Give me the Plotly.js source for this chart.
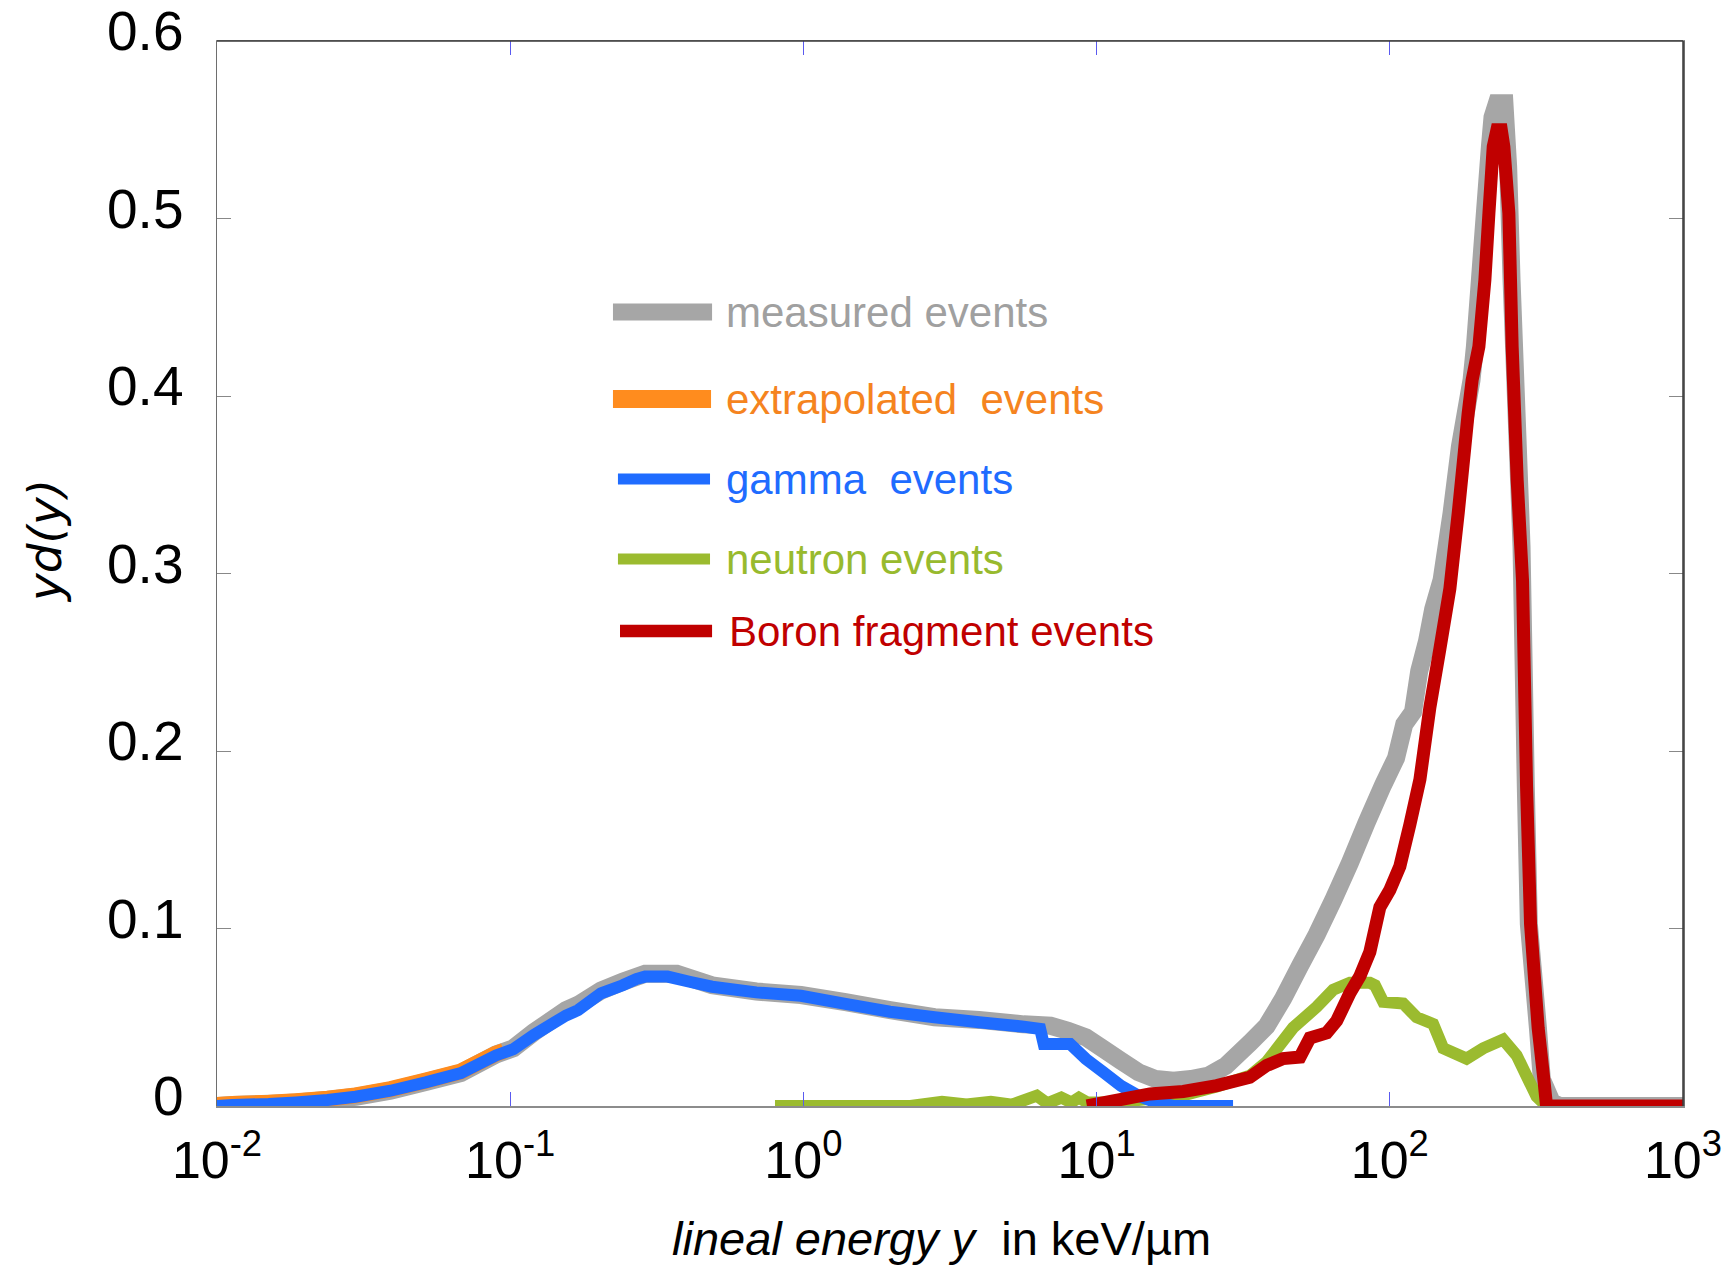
<!DOCTYPE html>
<html>
<head>
<meta charset="utf-8">
<script src="https://cdn.plot.ly/plotly-3.0.1.min.js"></script>
<style>
  html, body { margin: 0; padding: 0; background: #ffffff; }
  #chart { width: 1735px; height: 1268px; }
</style>
</head>
<body>
<div id="chart"></div>
<script>
// Microdosimetric spectra: lineal energy y (keV/µm) vs. yd(y)

// measured events (total)
const measuredY = [0.01, 0.0113, 0.015, 0.0186, 0.0238, 0.0297, 0.0391, 0.0515, 0.0679, 0.0894,
  0.1025, 0.1203, 0.155, 0.1705, 0.204, 0.242, 0.2885, 0.37, 0.488, 0.691, 0.981, 1.392, 1.975,
  2.80, 3.97, 5.64, 6.97, 7.99, 9.19, 10.55, 12.1, 13.9, 15.9, 18.3, 21.0, 24.1, 27.6, 30.8, 33.3,
  38.0, 43.3, 49.4, 56.3, 64.1, 73.1, 83.3, 94.95, 105, 112, 120, 126, 134, 140.6, 150.2, 162.4,
  173.4, 190, 195.1, 202.9, 211, 219.5, 224, 232, 246, 253.3, 260.2, 270.6, 281.4, 291, 298, 320,
  330, 357, 380, 1000];
const measuredYd = [0, 0.0006, 0.0012, 0.002, 0.0034, 0.0052, 0.0086, 0.0135, 0.0186, 0.029,
  0.0325, 0.0415, 0.054, 0.057, 0.065, 0.070, 0.0745, 0.0745, 0.068, 0.0645, 0.0625, 0.0585, 0.054,
  0.050, 0.0485, 0.046, 0.0452, 0.0424, 0.0387, 0.0321, 0.0255, 0.019, 0.0152, 0.0143, 0.0152, 0.0171, 0.0227, 0.0302, 0.0355,
  0.045, 0.0606, 0.079, 0.0965, 0.116, 0.137, 0.1596, 0.181, 0.196, 0.215, 0.222, 0.245, 0.262, 0.280, 0.2963, 0.3339,
  0.3714, 0.409, 0.4278, 0.4653, 0.503, 0.5405, 0.557, 0.565, 0.565, 0.529, 0.465, 0.39, 0.315, 0.18, 0.1025, 0.044,
  0.015, 0.002, 0, 0];

// extrapolated events (below detection threshold)
const extrapY = [0.01, 0.0113, 0.015, 0.0186, 0.0238, 0.0297, 0.0391, 0.0515, 0.0679, 0.0894, 0.095];
const extrapYd = [0.0005, 0.0012, 0.0018, 0.0027, 0.0041, 0.006, 0.0095, 0.0143, 0.0195, 0.0295, 0.031];

// gamma events
const gammaY = [0.01, 0.0113, 0.015, 0.0186, 0.0238, 0.0297, 0.0391, 0.0515, 0.0679, 0.0894, 0.1025,
  0.1203, 0.155, 0.1705, 0.204, 0.242, 0.269, 0.2885, 0.344, 0.409, 0.488, 0.691, 0.981, 1.392, 1.975,
  2.80, 3.97, 5.64, 6.42, 6.60, 8.12, 9.19, 10.55, 12.1, 13.9, 15.9, 18.3, 29.2];
const gammaYd = [0, 0.0006, 0.0011, 0.002, 0.0034, 0.0052, 0.0086, 0.0133, 0.0185, 0.0285, 0.032,
  0.040, 0.051, 0.054, 0.0635, 0.068, 0.0715, 0.0729, 0.0729, 0.070, 0.0672, 0.064, 0.0621, 0.0575, 0.0531,
  0.050, 0.0472, 0.0447, 0.0434, 0.035, 0.035, 0.0265, 0.019, 0.0114, 0.0058, 0.002, 0, 0];

// neutron events
const neutronY = [0.80, 2.32, 2.97, 3.6, 4.36, 5.15, 6.25, 6.79, 7.58, 8.2, 8.70, 9.3, 11.45, 15.2,
  19.75, 25.7, 33.3, 38.0, 46.8, 56.3, 64.1, 73.1, 85.5, 89, 94.95, 111.1, 123.4, 140.6, 152.1,
  182.7, 208.2, 243.6, 270.6, 292.7, 316.6, 342.4];
const neutronYd = [0, 0, 0.0024, 0.0008, 0.0024, 0.0008, 0.0058, 0.0015, 0.0047, 0.002, 0.0047, 0.002, 0.002, 0.004,
  0.006, 0.011, 0.017, 0.0248, 0.0441, 0.0558, 0.0655, 0.0694, 0.0694, 0.068, 0.0587, 0.0577, 0.050, 0.0462, 0.0325,
  0.0267, 0.0325, 0.0374, 0.0286, 0.017, 0.0054, 0];

// boron fragment events
const boronY = [9.27, 15.2, 19.75, 25.7, 33.3, 38.0, 43.3, 49.4, 53.4, 60.9, 65.9, 73.1, 79.1, 85.5,
  92.5, 100, 108.2, 117.1, 126.7, 137, 148.2, 160.3, 171.1, 180.3, 185, 190.9, 201.3, 211, 217.8,
  225.3, 232, 240, 244.9, 254.7, 261.4, 271.9, 283.6, 292.7, 302, 320.6, 335.3, 342.4, 1000];
const boronYd = [0, 0.0068, 0.0082, 0.0115, 0.0162, 0.0228, 0.0267, 0.0276, 0.0383, 0.0412, 0.048, 0.0636, 0.0732, 0.0868,
  0.112, 0.1217, 0.135, 0.1586, 0.184, 0.2246, 0.2575, 0.2915, 0.3339, 0.3714, 0.39, 0.409, 0.4278, 0.4653, 0.503,
  0.5405, 0.55, 0.55, 0.5405, 0.503, 0.4278, 0.3527, 0.296, 0.18, 0.1025, 0.044, 0.015, 0, 0];

// axis ticks
const xTickVals = [0.01, 0.1, 1, 10, 100, 1000];
const xTickText = ['10<sup>-2</sup>', '10<sup>-1</sup>', '10<sup>0</sup>', '10<sup>1</sup>', '10<sup>2</sup>', '10<sup>3</sup>'];
const yTickVals = [0, 0.1, 0.2, 0.3, 0.4, 0.5, 0.6];
const yTickText = ['0', '0.1', '0.2', '0.3', '0.4', '0.5', '0.6'];

// legend labels and colours
const seriesNames = ['measured events', 'extrapolated\u00a0\u00a0events', 'gamma\u00a0\u00a0events', 'neutron events', 'Boron fragment events'];
const lineColors = ['#a6a6a6', '#ff8c1e', '#1f6cff', '#9bbb2f', '#c00000'];
const textColors = ['#a0a0a0', '#f5841f', '#1f6cff', '#98ba2e', '#c00000'];

const FONT = 'Liberation Sans, Arial, Helvetica, sans-serif';

function curve(x, y, color, width) {
  return {
    type: 'scatter', mode: 'lines', x: x, y: y,
    line: { color: color, width: width, simplify: false },
    hoverinfo: 'skip', showlegend: false
  };
}

const traces = [
  curve(measuredY, measuredYd, lineColors[0], 18),
  curve(extrapY, extrapYd, lineColors[1], 16),
  curve(neutronY, neutronYd, lineColors[3], 12),
  curve(gammaY, gammaYd, lineColors[2], 12),
  curve(boronY, boronYd, lineColors[4], 13)
];

// hand-placed key inside the plot area (paper coordinates)
const keyRows = [0.7455, 0.6638, 0.5887, 0.5136, 0.446];
const keyLineX = [[0.2701, 0.3377], [0.2701, 0.3370], [0.2735, 0.3363], [0.2735, 0.3363], [0.2749, 0.3377]];
const keyLineW = [17, 18, 11, 11, 12.5];
const keyTextX = [0.3458, 0.3458, 0.3458, 0.3458, 0.3479];

const shapes = [
  // top and right frame
  { type: 'line', xref: 'paper', yref: 'paper', x0: 0, x1: 1, y0: 1, y1: 1, line: { color: '#3a3a3a', width: 1.5 } },
  { type: 'line', xref: 'paper', yref: 'paper', x0: 1, x1: 1, y0: 0, y1: 1, line: { color: '#3a3a3a', width: 1.5 } }
];
const annotations = [];
for (let i = 0; i < seriesNames.length; i++) {
  shapes.push({
    type: 'line', xref: 'paper', yref: 'paper',
    x0: keyLineX[i][0], x1: keyLineX[i][1], y0: keyRows[i], y1: keyRows[i],
    line: { color: lineColors[i], width: keyLineW[i] }
  });
  annotations.push({
    xref: 'paper', yref: 'paper', x: keyTextX[i], y: keyRows[i],
    xanchor: 'left', yanchor: 'middle', showarrow: false,
    text: seriesNames[i], font: { family: FONT, size: 42, color: textColors[i] }
  });
}
// axis titles
annotations.push({
  xref: 'paper', yref: 'paper', x: 0.4945, y: -0.124, xanchor: 'center', yanchor: 'middle', showarrow: false,
  text: '<i>lineal energy y</i>\u00a0\u00a0in keV/\u00b5m', font: { family: FONT, size: 47, color: '#000' }
});
annotations.push({
  xref: 'paper', yref: 'paper', x: -0.118, y: 0.5305, xanchor: 'center', yanchor: 'middle', showarrow: false,
  textangle: -90, text: '<i>yd(y)</i>', font: { family: 'DejaVu Sans, sans-serif', size: 47, color: '#000' }
});

const layout = {
  width: 1735, height: 1268,
  margin: { l: 217, r: 52, t: 41, b: 162, pad: 0 },
  paper_bgcolor: '#ffffff', plot_bgcolor: '#ffffff',
  showlegend: false,
  font: { family: FONT, color: '#000000' },
  xaxis: {
    type: 'log', range: [-2, 3], autorange: false,
    tickmode: 'array', tickvals: xTickVals, ticktext: xTickText,
    ticks: 'inside', ticklen: 14, tickwidth: 1, tickcolor: '#5a5af0',
    showline: true, linecolor: '#8c8c8c', linewidth: 1.5, mirror: 'ticks',
    showgrid: false, zeroline: false,
    tickfont: { family: FONT, size: 52, color: '#000' },
    ticklabelstandoff: 8
  },
  yaxis: {
    range: [0, 0.6], autorange: false,
    tickmode: 'array', tickvals: yTickVals, ticktext: yTickText,
    ticks: 'inside', ticklen: 14, tickwidth: 1, tickcolor: '#888888',
    showline: true, linecolor: '#6e6e6e', linewidth: 1.5, mirror: 'ticks',
    showgrid: false, zeroline: false,
    tickfont: { family: FONT, size: 55, color: '#000' },
    ticklabelstandoff: 21, ticklabelshift: -10
  },
  shapes: shapes,
  annotations: annotations
};

Plotly.newPlot('chart', traces, layout, { staticPlot: true, displayModeBar: false });
</script>
</body>
</html>
